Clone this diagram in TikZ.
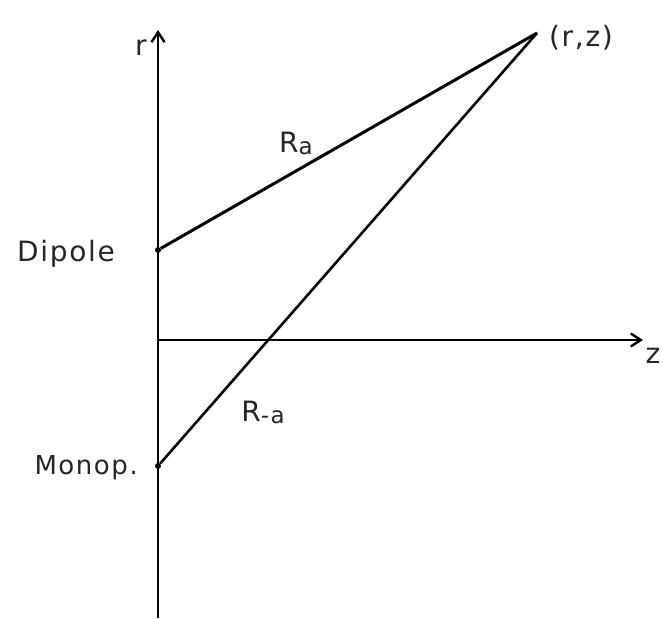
\documentclass[tikz,border=0pt]{standalone}
\usepackage{fontspec}
\setmainfont{DejaVu Sans}[LetterSpace=6]
\usetikzlibrary{arrows.meta}
\begin{document}
\begin{tikzpicture}[x=1pt,y=-1pt,
  ax/.style={line width=2.4pt,-{Straight Barb[length=10pt,width=13pt,line width=2.4pt]}},
  ln/.style={line width=2.6pt},
  lbl/.style={font=\fontsize{28}{32}\selectfont,text=black!85,inner sep=0pt},
  dot/.style={circle,fill=black,inner sep=0pt,minimum size=6pt}]
\useasboundingbox (0,0) rectangle (663,618);
\fill[white] (0,0) rectangle (663,618);
\coordinate (vb) at (158,618);
\coordinate (vt) at (158,30);
\coordinate (hl) at (158,340);
\coordinate (hr) at (643,340);
\node[dot] (dip) at (158,250) {};
\node[dot] (mon) at (158,466) {};
\coordinate (rz) at (537,33);
\draw[ax] (vb) -- (vt);
\draw[ax] (hl) -- (hr);
\draw[ln,line width=3pt] (dip) -- (rz);
\draw[ln] (mon) -- (rz);
\node[lbl,anchor=base] (rl) at (141,56) {r};
\node[lbl,anchor=base] (zl) at (653,363) {z};
\node[lbl,anchor=base] (rzl) at (581,46) {(r,z)};
\node[lbl,anchor=base east] (dl) at (115,261) {Dipole};
\node[lbl,anchor=base east,font=\fontsize{26}{30}\selectfont] (ml) at (138,474) {Monop.};
\node[lbl,anchor=base] (ra) at (296,152) {R\raisebox{-2pt}{\fontsize{23}{26}\selectfont a}};
\node[lbl,anchor=base] (rma) at (263,421) {R\raisebox{-2pt}{\fontsize{23}{26}\selectfont -a}};
\end{tikzpicture}
\end{document}
